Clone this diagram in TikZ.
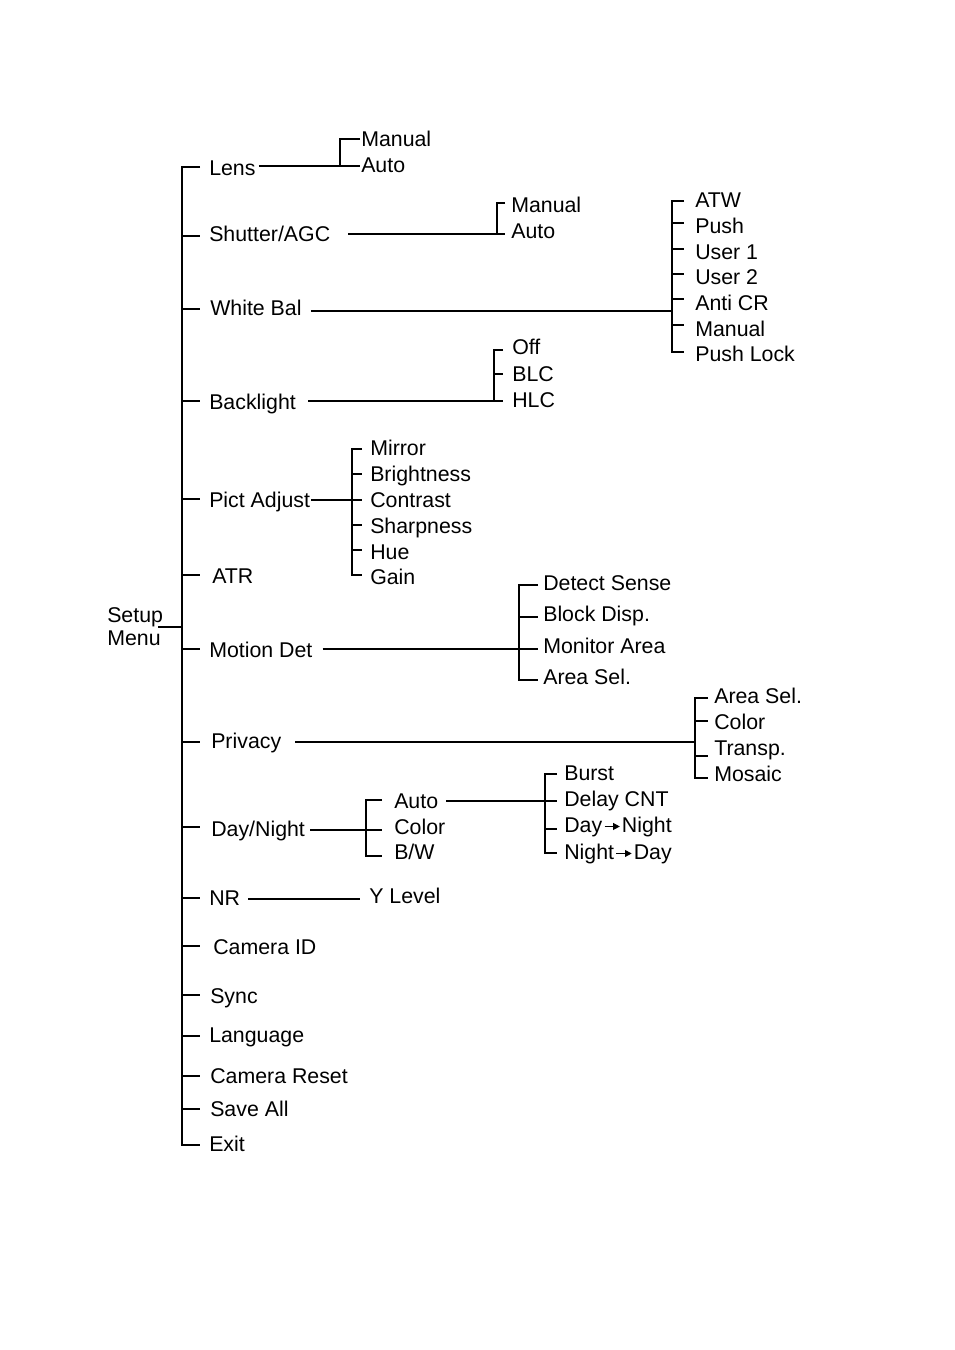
\documentclass[tikz,border=0pt]{standalone}
\usepackage{fontspec}
\setmainfont{Liberation Sans}
\usetikzlibrary{arrows.meta}
\newcommand\myarrow{\hspace{1.2pt}\tikz[baseline=0pt,x=1pt,y=1pt]\draw[line width=1.1pt,-{Triangle[length=5pt,width=5pt]}] (0,4.6) -- (11.5,4.6);\hspace{1pt}}
\begin{document}
\begin{tikzpicture}[x=0.75pt,y=-0.75pt,
  lbl/.style={inner sep=0pt, anchor=base west, font=\fontsize{16}{19}\selectfont},
  trunk/.style={line width=1.6pt, line cap=butt},
  br/.style={line width=1.2pt},
]
\useasboundingbox[fill=white] (0,0) rectangle (955,1350);

% ---------- root ----------
\node[lbl] (setup) at (107,622.6) {Setup};
\node[lbl] (menu)  at (107,645.6) {Menu};
\coordinate (rootj) at (182,627);

% ---------- main items ----------
\node[lbl] (lens)     at (209,175.6)  {Lens};
\node[lbl] (shutter)  at (209,241.6)  {Shutter/AGC};
\node[lbl] (whitebal) at (210,315.6)  {White Bal};
\node[lbl] (backl)    at (209,409.6)  {Backlight};
\node[lbl] (pict)     at (209,507.6)  {Pict Adjust};
\node[lbl] (atr)      at (212,583.6)  {ATR};
\node[lbl] (motion)   at (209,657.6)  {Motion Det};
\node[lbl] (privacy)  at (211,748.6)  {Privacy};
\node[lbl] (daynight) at (211,836.6)  {Day/Night};
\node[lbl] (nr)       at (209,905.6)  {NR};
\node[lbl] (camid)    at (213,954.6)  {Camera ID};
\node[lbl] (sync)     at (210,1003.6) {Sync};
\node[lbl] (lang)     at (209,1042.6) {Language};
\node[lbl] (reset)    at (210,1083.6) {Camera Reset};
\node[lbl] (save)     at (210,1116.6) {Save All};
\node[lbl] (exit)     at (209,1151.6) {Exit};

% trunk
\coordinate (t-lens)  at (182,167);
\coordinate (t-exit)  at (182,1145);
\draw[trunk] (200,167) -- (t-lens) -- (t-exit) -- (200,1145);
\draw[br] (setup.east |- rootj) ++(-5,0) -- (rootj);
\foreach \y in {236,309,401,499,575,649,742,827,898,946,995,1036,1076,1109}
  \draw[br] (182,\y) -- (200,\y);

% ---------- Lens ----------
\coordinate (lensj) at (340,166);
\node[lbl] (lens-man)  at (361,146.6) {Manual};
\node[lbl] (lens-auto) at (361,172.6) {Auto};
\draw[br] (lens.east |- lensj) ++(3,0) -- (lensj);
\draw[br] (lens-man.west |- 0,139) ++(-1,0) -- (340,139) -- (lensj) -- ([xshift=-1]lens-auto.west |- lensj);

% ---------- Shutter/AGC ----------
\coordinate (shj) at (497,234);
\node[lbl] (sh-man)  at (511,212.6) {Manual};
\node[lbl] (sh-auto) at (511,238.6) {Auto};
\draw[br] (shutter.east |- shj) ++(18,0) -- (shj);
\draw[br] (505,203) -- (497,203) -- (shj) -- (505,234);

% ---------- White Bal ----------
\coordinate (wbj) at (672,311);
\draw[br] (whitebal.east |- wbj) ++(9,0) -- (wbj);
\node[lbl] (wb1) at (695,207.6) {ATW};
\node[lbl] (wb2) at (695,233.6) {Push};
\node[lbl] (wb3) at (695,259.6) {User 1};
\node[lbl] (wb4) at (695,284.6) {User 2};
\node[lbl] (wb5) at (695,310.6) {Anti CR};
\node[lbl] (wb6) at (695,336.6) {Manual};
\node[lbl] (wb7) at (695,361.6) {Push Lock};
\draw[br] (684,201) -- (672,201) -- (672,352) -- (684,352);
\foreach \y in {223,249,274,299,325}
  \draw[br] (672,\y) -- (684,\y);

% ---------- Backlight ----------
\coordinate (blj) at (494,401);
\draw[br] (backl.east |- blj) ++(12,0) -- (blj);
\node[lbl] (bl1) at (512,354.6) {Off};
\node[lbl] (bl2) at (512,381.6) {BLC};
\node[lbl] (bl3) at (512,407.6) {HLC};
\draw[br] (503,350) -- (494,350) -- (blj) -- (503,401);
\draw[br] (494,374) -- (503,374);

% ---------- Pict Adjust ----------
\coordinate (paj) at (352,500);
\draw[br] (pict.east |- paj) ++(1,0) -- (paj);
\node[lbl] (pa1) at (370,455.6) {Mirror};
\node[lbl] (pa2) at (370,481.6) {Brightness};
\node[lbl] (pa3) at (370,507.6) {Contrast};
\node[lbl] (pa4) at (370,533.6) {Sharpness};
\node[lbl] (pa5) at (370,559.6) {Hue};
\node[lbl] (pa6) at (370,584.6) {Gain};
\draw[br] (362,449) -- (352,449) -- (352,575) -- (362,575);
\foreach \y in {474,500,525,550}
  \draw[br] (352,\y) -- (362,\y);

% ---------- Motion Det ----------
\coordinate (mdj) at (519,649);
\draw[br] (motion.east |- mdj) ++(10,0) -- (mdj);
\node[lbl] (md1) at (543,590.6) {Detect Sense};
\node[lbl] (md2) at (543,621.6) {Block Disp.};
\node[lbl] (md3) at (543,653.6) {Monitor Area};
\node[lbl] (md4) at (543,684.6) {Area Sel.};
\draw[br] (538,585) -- (519,585) -- (519,680) -- (538,680);
\draw[br] (519,617) -- (538,617);
\draw[br] (519,649) -- (538,649);

% ---------- Privacy ----------
\coordinate (prj) at (695,742);
\draw[br] (privacy.east |- prj) ++(14,0) -- (prj);
\node[lbl] (pr1) at (714,703.6) {Area Sel.};
\node[lbl] (pr2) at (714,729.6) {Color};
\node[lbl] (pr3) at (714,755.6) {Transp.};
\node[lbl] (pr4) at (714,781.6) {Mosaic};
\draw[br] (708,698) -- (695,698) -- (695,778) -- (708,778);
\foreach \y in {721,756}
  \draw[br] (695,\y) -- (708,\y);

% ---------- Day/Night ----------
\coordinate (dnj) at (366,830);
\draw[br] (daynight.east |- dnj) ++(5,0) -- (dnj);
\node[lbl] (dn1) at (394,808.6) {Auto};
\node[lbl] (dn2) at (394,834.6) {Color};
\node[lbl] (dn3) at (394,859.6) {B/W};
\draw[br] (382,800) -- (366,800) -- (366,856) -- (382,856);
\draw[br] (dnj) -- (382,830);

\coordinate (autoj) at (545,801);
\draw[br] (dn1.east |- autoj) ++(8,0) -- (autoj);
\node[lbl] (au1) at (564,780.6) {Burst};
\node[lbl] (au2) at (564,806.6) {Delay CNT};
\node[lbl] (au3) at (564,832.6) {Day\myarrow Night};
\node[lbl] (au4) at (564,859.6) {Night\myarrow Day};
\draw[br] (557,774) -- (545,774) -- (545,853) -- (557,853);
\draw[br] (autoj) -- (557,801);
\draw[br] (545,829) -- (557,829);

% ---------- NR ----------
\node[lbl] (ylev) at (369,903.6) {Y Level};
\draw[br] (nr.east |- 0,899) ++(8,0) -- ([xshift=-7]ylev.west |- 0,899);
\end{tikzpicture}
\end{document}
